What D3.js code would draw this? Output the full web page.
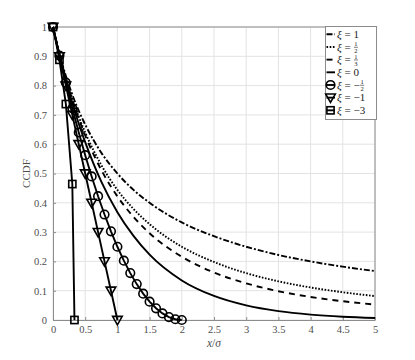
<!DOCTYPE html>
<html><head><meta charset="utf-8">
<script src="https://cdn.jsdelivr.net/npm/d3@7"></script>
<style>body{margin:0;background:#fff}svg{display:block}</style>
</head><body>
<svg id="c" width="415" height="360"></svg>
<script>
// ---- data ----
const xTicks = [0,0.5,1,1.5,2,2.5,3,3.5,4,4.5,5];
const xTickLabels = ["0","0.5","1","1.5","2","2.5","3","3.5","4","4.5","5"];
const yTicks = [0,0.1,0.2,0.3,0.4,0.5,0.6,0.7,0.8,0.9,1];
const yTickLabels = ["0","0.1","0.2","0.3","0.4","0.5","0.6","0.7","0.8","0.9","1"];

const xSmooth = [0,0.1,0.2,0.3,0.4,0.5,0.75,1,1.25,1.5,2,2.5,3,3.5,4,4.5,5];
const yXi1    = [1,0.909,0.833,0.769,0.714,0.667,0.571,0.5,0.444,0.4,0.333,0.286,0.25,0.222,0.2,0.182,0.167];
const yXiHalf = [1,0.907,0.826,0.756,0.694,0.64,0.529,0.444,0.379,0.327,0.25,0.198,0.16,0.132,0.111,0.0947,0.0816];
const yXiThird= [1,0.906,0.824,0.751,0.687,0.63,0.512,0.422,0.352,0.296,0.216,0.162,0.125,0.0983,0.0787,0.064,0.0527];
const yXi0    = [1,0.905,0.819,0.741,0.67,0.607,0.472,0.368,0.287,0.223,0.135,0.082,0.0498,0.0302,0.0183,0.0111,0.0067];

const xNegHalf = [0,0.1,0.2,0.3,0.4,0.5,0.6,0.7,0.8,0.9,1,1.1,1.2,1.3,1.4,1.5,1.6,1.7,1.8,1.9,2];
const yNegHalf = [1,0.9025,0.81,0.7225,0.64,0.5625,0.49,0.4225,0.36,0.3025,0.25,0.2025,0.16,0.1225,0.09,0.0625,0.04,0.0225,0.01,0.0025,0];
const xNeg1 = [0,0.1,0.2,0.3,0.4,0.5,0.6,0.7,0.8,0.9,1];
const yNeg1 = [1,0.9,0.8,0.7,0.6,0.5,0.4,0.3,0.2,0.1,0];
const xNeg3 = [0,0.1,0.2,0.3,0.3333];
const yNeg3 = [1,0.888,0.737,0.464,0];

const legendNum = [["1",null],["1","2"],["1","3"],["0",null],["1","2"],["1",null],["3",null]];
const legendSign = ["","","","","\u2212","\u2212","\u2212"];

// ---- layout ----
const svg = d3.select("#c");
const L = 53, R = 375, T = 27, B = 320;
const x = d3.scaleLinear().domain([0,5]).range([L,R]);
const y = d3.scaleLinear().domain([0,1]).range([B,T]);
const FONT = "Liberation Serif";

const series = [
  {xs:xSmooth, ys:yXi1, dash:"6,2,2,2", marker:null, smooth:true},
  {xs:xSmooth, ys:yXiHalf, dash:"1.6,1.6", marker:null, smooth:true},
  {xs:xSmooth, ys:yXiThird, dash:"6,5", marker:null, smooth:true},
  {xs:xSmooth, ys:yXi0, dash:null, marker:null, smooth:true},
  {xs:xNegHalf, ys:yNegHalf, dash:null, marker:"circle", smooth:false},
  {xs:xNeg1, ys:yNeg1, dash:null, marker:"tri", smooth:false},
  {xs:xNeg3, ys:yNeg3, dash:null, marker:"square", smooth:false}
];

// grid
const g = svg.append("g");
g.selectAll(".gx").data(xTicks).join("line")
  .attr("x1",d=>x(d)).attr("x2",d=>x(d)).attr("y1",T).attr("y2",B)
  .attr("stroke","#e3e3e3").attr("stroke-width",1);
g.selectAll(".gy").data(yTicks).join("line")
  .attr("y1",d=>y(d)).attr("y2",d=>y(d)).attr("x1",L).attr("x2",R)
  .attr("stroke","#e3e3e3").attr("stroke-width",1);

// axes
const xa = svg.append("g").attr("transform",`translate(0,${B})`)
  .call(d3.axisBottom(x).tickValues(xTicks).tickFormat((d,i)=>xTickLabels[i]).tickSizeInner(-3).tickSizeOuter(0).tickPadding(6));
const ya = svg.append("g").attr("transform",`translate(${L},0)`)
  .call(d3.axisLeft(y).tickValues(yTicks).tickFormat((d,i)=>yTickLabels[i]).tickSizeInner(-3).tickSizeOuter(0).tickPadding(6));
[xa,ya].forEach(a=>{
  a.attr("font-family",FONT).attr("font-size",10.5);
  a.selectAll("path").attr("stroke","#8c8c8c");
  a.selectAll("line").attr("stroke","#8c8c8c");
  a.selectAll("text").attr("fill","#4d4d4d").style("font-family",FONT).style("font-size","10.5px");
});
// top/right box lines
svg.append("line").attr("x1",L).attr("x2",R).attr("y1",T).attr("y2",T).attr("stroke","#8c8c8c");
svg.append("line").attr("x1",R).attr("x2",R).attr("y1",T).attr("y2",B).attr("stroke","#8c8c8c");

// lines
const pg = svg.append("g");
series.forEach(s=>{
  const pts = s.xs.map((v,i)=>[v,s.ys[i]]);
  const line = d3.line().x(d=>x(d[0])).y(d=>y(d[1])).curve(s.smooth?d3.curveMonotoneX:d3.curveLinear);
  pg.append("path").attr("d",line(pts)).attr("fill","none").attr("stroke","#000")
    .attr("stroke-width",1.9).attr("stroke-dasharray",s.dash);
});
function marker(sel,type,cx,cy){
  if(type==="circle") sel.append("circle").attr("cx",cx).attr("cy",cy).attr("r",4.3)
    .attr("fill","none").attr("stroke","#000").attr("stroke-width",1.6);
  else if(type==="tri") sel.append("path").attr("d",`M${cx-4.8},${cy-3.6}L${cx+4.8},${cy-3.6}L${cx},${cy+4.8}Z`)
    .attr("fill","none").attr("stroke","#000").attr("stroke-width",1.6);
  else if(type==="square") sel.append("rect").attr("x",cx-3.6).attr("y",cy-3.6).attr("width",7.2).attr("height",7.2)
    .attr("fill","none").attr("stroke","#000").attr("stroke-width",1.6);
}
series.forEach(s=>{
  if(!s.marker) return;
  s.xs.forEach((v,i)=>marker(pg,s.marker,x(v),y(s.ys[i])));
});

// axis labels
svg.append("text").attr("transform",`translate(30,${(T+B)/2}) rotate(-90)`).attr("text-anchor","middle")
  .style("font-family",FONT).style("font-size","11px").attr("fill","#4d4d4d").text("CCDF");
const xl = svg.append("text").attr("x",(L+R)/2).attr("y",347).attr("text-anchor","middle")
  .style("font-family",FONT).style("font-size","11.5px").attr("fill","#4d4d4d");
xl.append("tspan").attr("font-style","italic").text("x");
xl.append("tspan").text("/");
xl.append("tspan").attr("font-style","italic").text("\u03C3");

// legend
const lx0 = 325.5, ly0 = 26.5, lw = 51, lh = 93;
const lg = svg.append("g");
lg.append("rect").attr("x",lx0).attr("y",ly0).attr("width",lw).attr("height",lh)
  .attr("fill","#fff").attr("stroke","#8c8c8c").attr("stroke-width",1);
series.forEach((s,i)=>{
  const cy = 34.3 + i*12.67;
  lg.append("line").attr("x1",326.5).attr("x2",335).attr("y1",cy).attr("y2",cy)
    .attr("stroke","#000").attr("stroke-width",1.9).attr("stroke-dasharray",s.dash);
  if(s.marker) marker(lg,s.marker,330.5,cy);
  const [n,dn] = legendNum[i];
  const t = lg.append("text").attr("x",337).attr("y",cy+3.8)
    .style("font-family",FONT).style("font-size","11px").attr("fill","#222");
  t.append("tspan").attr("font-style","italic").text("\u03BE");
  t.append("tspan").text("\u00A0=\u00A0" + legendSign[i] + (dn===null ? n : ""));
  if(dn!==null){
    const bb = t.node().getBBox();
    const fx = bb.x + bb.width + 2.5;
    lg.append("text").attr("x",fx).attr("y",cy-0.8).attr("text-anchor","middle")
      .style("font-family",FONT).style("font-size","6.5px").attr("fill","#222").text(n);
    lg.append("line").attr("x1",fx-2).attr("x2",fx+2).attr("y1",cy+0.3).attr("y2",cy+0.3).attr("stroke","#222").attr("stroke-width",0.6);
    lg.append("text").attr("x",fx).attr("y",cy+6.2).attr("text-anchor","middle")
      .style("font-family",FONT).style("font-size","6.5px").attr("fill","#222").text(dn);
  }
});
</script>
</body></html>
